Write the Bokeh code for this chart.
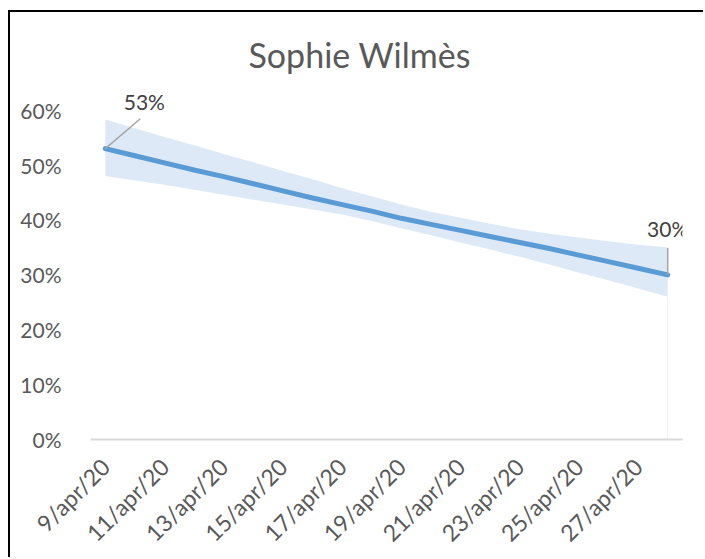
import numpy as np
from bokeh.plotting import figure
from bokeh.models import ColumnDataSource, FixedTicker, Label, Range1d
from bokeh.embed import file_html
from bokeh.resources import INLINE

# ---- data ----
dates = ["9/apr/20", "10/apr/20", "11/apr/20", "12/apr/20", "13/apr/20",
         "14/apr/20", "15/apr/20", "16/apr/20", "17/apr/20", "18/apr/20",
         "19/apr/20", "20/apr/20", "21/apr/20", "22/apr/20", "23/apr/20",
         "24/apr/20", "25/apr/20", "26/apr/20", "27/apr/20", "28/apr/20"]
support = [53.0, 51.7, 50.4, 49.1, 47.9, 46.6, 45.3, 44.0, 42.8, 41.6,
           40.3, 39.2, 38.1, 37.0, 35.9, 34.8, 33.6, 32.4, 31.2, 30.0]
upper = [58.3, 56.7, 55.1, 53.6, 52.0, 50.5, 48.9, 47.4, 45.8, 44.3,
         42.8, 41.5, 40.4, 39.3, 38.3, 37.5, 36.8, 36.1, 35.5, 35.0]
lower = [48.0, 47.2, 46.4, 45.5, 44.6, 43.7, 42.8, 41.9, 41.0, 39.8,
         38.5, 37.2, 35.9, 34.6, 33.3, 31.9, 30.4, 29.0, 27.5, 26.0]
y_ticks = [0, 10, 20, 30, 40, 50, 60]
y_tick_labels = ["0%", "10%", "20%", "30%", "40%", "50%", "60%"]
title_text = "Sophie Wilmès"

x = list(range(len(dates)))
src = ColumnDataSource(dict(x=x, y=support, up=upper, lo=lower))

FONT = "Lato"
GREY = "#595959"

p = figure(width=695, height=547, output_backend="svg", toolbar_location=None,
           x_range=Range1d(-0.5, 19.5), y_range=Range1d(0, 64.5),
           min_border_left=80, min_border_right=23, min_border_top=73,
           min_border_bottom=118)
p.styles = {"margin-left": "8px", "margin-top": "10px",
            "border-left": "2px solid black", "border-top": "2px solid black",
            "border-right": "0px", "border-bottom": "0px",
            "outline": "none", "box-shadow": "none"}
p.outline_line_color = None
p.background_fill_color = "white"
p.border_fill_color = "white"
p.grid.visible = False

p.title.text = title_text
p.title.align = "left"
p.title.offset = 158
p.title.standoff = 21
p.title.text_font = FONT
p.title.text_font_size = "34px"
p.title.text_font_style = "normal"
p.title.text_color = GREY

# band
p.varea(x="x", y1="lo", y2="up", source=src, fill_color="#dde9f6")
# faint drop line at last point
p.segment(x0=[x[-1]], y0=[0], x1=[x[-1]], y1=[lower[-1]],
          line_color="#f0f0f0", line_width=1)
# main line
p.line(x="x", y="y", source=src, line_color="#5b9bd5", line_width=5,
       line_cap="round")

# data labels with leader lines
PX_X = 592 / 20.0
PX_Y = 356 / 64.5
label_specs = [(0, 39, 47, 35, 30), (len(x) - 1, 0, 46, 0, 27)]
for idx, dx, dy, lx, ly in label_specs:
    p.segment(x0=[x[idx]], y0=[support[idx]],
              x1=[x[idx] + lx / PX_X], y1=[support[idx] + ly / PX_Y],
              line_color="#a6a6a6", line_width=1.5)
    p.add_layout(Label(x=x[idx], y=support[idx], x_offset=dx, y_offset=dy,
                       text=f"{support[idx]:.0f}%", text_align="center",
                       text_baseline="middle", text_font=FONT,
                       text_font_size="21px", text_color="#404040"))

# axes
p.yaxis.ticker = FixedTicker(ticks=y_ticks)
p.yaxis.major_label_overrides = {t: l for t, l in zip(y_ticks, y_tick_labels)}
p.yaxis.axis_line_color = None
p.yaxis.major_tick_line_color = None
p.yaxis.minor_tick_line_color = None
p.yaxis.major_label_standoff = 23
p.yaxis.major_label_text_font = FONT
p.yaxis.major_label_text_font_size = "21px"
p.yaxis.major_label_text_color = GREY

xt = x[0::2]
p.xaxis.ticker = FixedTicker(ticks=xt)
p.xaxis.major_label_overrides = {t: dates[t] for t in xt}
p.xaxis.major_label_orientation = np.pi / 4
p.xaxis.axis_line_color = "#d9d9d9"
p.xaxis.axis_line_width = 2
p.xaxis.major_tick_line_color = None
p.xaxis.minor_tick_line_color = None
p.xaxis.major_label_standoff = 17
p.xaxis.major_label_text_font = FONT
p.xaxis.major_label_text_font_size = "23px"
p.xaxis.major_label_text_color = GREY

open("out.html", "w").write(file_html(p, INLINE))
